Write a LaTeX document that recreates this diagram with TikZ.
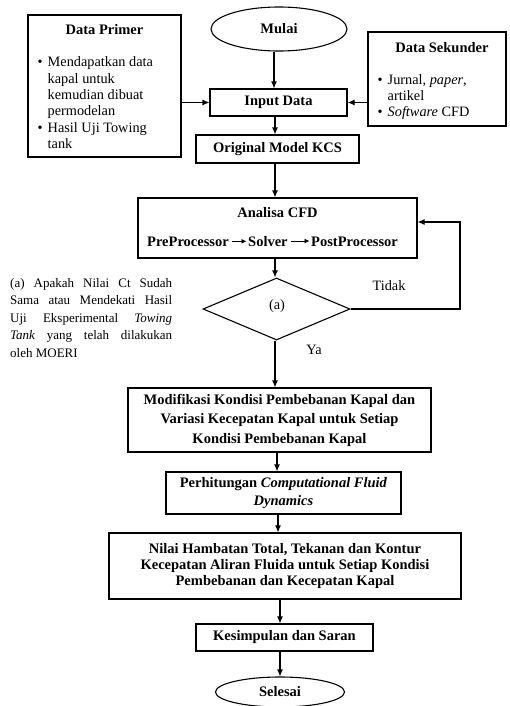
\documentclass[tikz,border=0pt]{standalone}
\usepackage{fontspec}
\setmainfont{Liberation Serif}
\usetikzlibrary{shapes.geometric,arrows.meta,calc}
\tikzset{
  box/.style={draw, line width=1.1pt, inner sep=0pt, align=center,
    font=\fontsize{14.5}{19.5}\selectfont\bfseries},
  term/.style={draw, ellipse, line width=1.1pt, inner sep=0pt,
    font=\fontsize{14.5}{17}\selectfont\bfseries},
  dec/.style={draw, diamond, line width=1.1pt, inner sep=0pt,
    font=\fontsize{14.3}{17}\selectfont},
  plain/.style={inner sep=0pt, font=\fontsize{14.3}{17}\selectfont},
  bold/.style={inner sep=0pt, font=\fontsize{14.5}{17}\selectfont\bfseries},
  arr/.style={line width=1.1pt, -{Latex[length=7pt,width=6pt]}},
  smallarr/.style={line width=0.9pt, -{Latex[length=5pt,width=5pt]}, shorten <=3pt, shorten >=1.5pt}
}
\begin{document}
\begin{tikzpicture}[x=1pt,y=-1pt]
\useasboundingbox (0,0) rectangle (510,706);

% main column
\node[term, minimum width=136pt, minimum height=44pt] (mulai) at (279,29) {Mulai};
\node[box, minimum width=137pt, minimum height=27pt] (input) at (278.5,102.5) {Input Data};
\node[box, minimum width=163pt, minimum height=28pt] (kcs) at (277.5,149) {Original Model KCS};

% Data Primer
\node[box, minimum width=153pt, minimum height=142pt] (primer) at (104.5,86) {};
\node[bold] (primert) at (104.5,30) {Data Primer};
\node[plain, anchor=north west] (primerl) at (37.5,55) {%
  \fontsize{14.3}{16.4}\selectfont
  \begin{tabular}{@{}l@{\hspace{5pt}}l@{}}
  \textbullet & Mendapatkan data\\
   & kapal untuk\\
   & kemudian dibuat\\
   & permodelan\\
  \textbullet & Hasil Uji Towing\\
   & tank
  \end{tabular}};

% Data Sekunder
\node[box, minimum width=138pt, minimum height=94pt] (sekunder) at (437,79) {};
\node[bold] (sekundert) at (442,48) {Data Sekunder};
\node[plain, anchor=north west] (sekunderl) at (377.5,73.5) {%
  \fontsize{14.3}{16}\selectfont
  \begin{tabular}{@{}l@{\hspace{5pt}}l@{}}
  \textbullet & Jurnal, \textit{paper},\\
   & artikel\\
  \textbullet & \textit{Software} CFD
  \end{tabular}};

% Analisa CFD
\node[box, minimum width=279pt, minimum height=60pt] (analisa) at (277.5,228) {};
\node[bold] (analisat) at (277.5,213) {Analisa CFD};
\node[bold, anchor=base west] (pre) at (147,246) {PreProcessor};
\node[bold, anchor=base west] (solver) at (248,246) {Solver};
\node[bold, anchor=base west] (post) at (311,246) {PostProcessor};
\draw[smallarr] (pre.east) -- (solver.west |- pre.east);
\draw[smallarr] (solver.east) -- (post.west |- solver.east);

% decision
\node[dec, minimum width=147pt, minimum height=62pt] (dec) at (276.5,309) {};
\node[plain] (deca) at (277,306) {(a)};
\node[plain] (tidak) at (389,286) {Tidak};
\node[plain] (ya) at (314,350) {Ya};
\coordinate (loop) at (460,222);

% note
\node[inner sep=0pt, anchor=north west, text width=162pt, align=justify,
  font=\fontsize{13}{17.5}\selectfont] (note) at (10,278) {%
  (a) Apakah Nilai Ct Sudah\linebreak Sama atau Mendekati Hasil\linebreak
  Uji Eksperimental \textit{Towing}\linebreak \textit{Tank} yang telah dilakukan\linebreak
  oleh MOERI};

% lower column
\node[box, minimum width=303pt, minimum height=64pt] (modif) at (279.5,420)
  {Modifikasi Kondisi Pembebanan Kapal dan\\Variasi Kecepatan Kapal untuk Setiap\\Kondisi Pembebanan Kapal};
\node[box, minimum width=235pt, minimum height=42pt,
  font=\fontsize{14.5}{18}\selectfont\bfseries] (cfd) at (283.5,493)
  {Perhitungan \textit{Computational Fluid}\\\textit{Dynamics}};
\node[box, minimum width=352pt, minimum height=66pt,
  font=\fontsize{14.5}{16.2}\selectfont\bfseries] (nilai) at (285,566)
  {Nilai Hambatan Total, Tekanan dan Kontur\\Kecepatan Aliran Fluida untuk Setiap Kondisi\\Pembebanan dan Kecepatan Kapal};
\node[box, minimum width=177pt, minimum height=27pt] (kesimpulan) at (284.5,637.5) {Kesimpulan dan Saran};
\node[term, minimum width=129pt, minimum height=30pt] (selesai) at (280,692) {Selesai};

% connectors
\draw[arr] ([xshift=-5pt]mulai.south) -- ([xshift=-5pt]mulai.south |- input.north);
\draw[arr] ([xshift=-3.5pt]input.south) -- ([xshift=-3.5pt]input.south |- kcs.north);
\draw[arr] ([xshift=-2.5pt]kcs.south) -- ([xshift=-2.5pt]kcs.south |- analisa.north);
\draw[arr] ([xshift=-2.5pt]analisa.south) -- ([xshift=-2.5pt]analisa.south |- dec.north);
\draw[arr] (input.west -| primer.east) -- (input.west);
\draw[arr] (input.east -| sekunder.west) -- (input.east);
\draw[arr] (dec.east) -| (loop) -- (analisa.east |- loop);
\draw[arr] ([xshift=-1.5pt]dec.south) -- ([xshift=-1.5pt]dec.south |- modif.north);
\draw[arr] ([xshift=-2.5pt]modif.south) -- ([xshift=-2.5pt]modif.south |- cfd.north);
\draw[arr] ([xshift=-5.5pt]cfd.south) -- ([xshift=-5.5pt]cfd.south |- nilai.north);
\draw[arr] ([xshift=-5pt]nilai.south) -- ([xshift=-5pt]nilai.south |- kesimpulan.north);
\draw[arr] ([xshift=-4.5pt]kesimpulan.south) -- ([xshift=-4.5pt]kesimpulan.south |- selesai.north);
\end{tikzpicture}
\end{document}
